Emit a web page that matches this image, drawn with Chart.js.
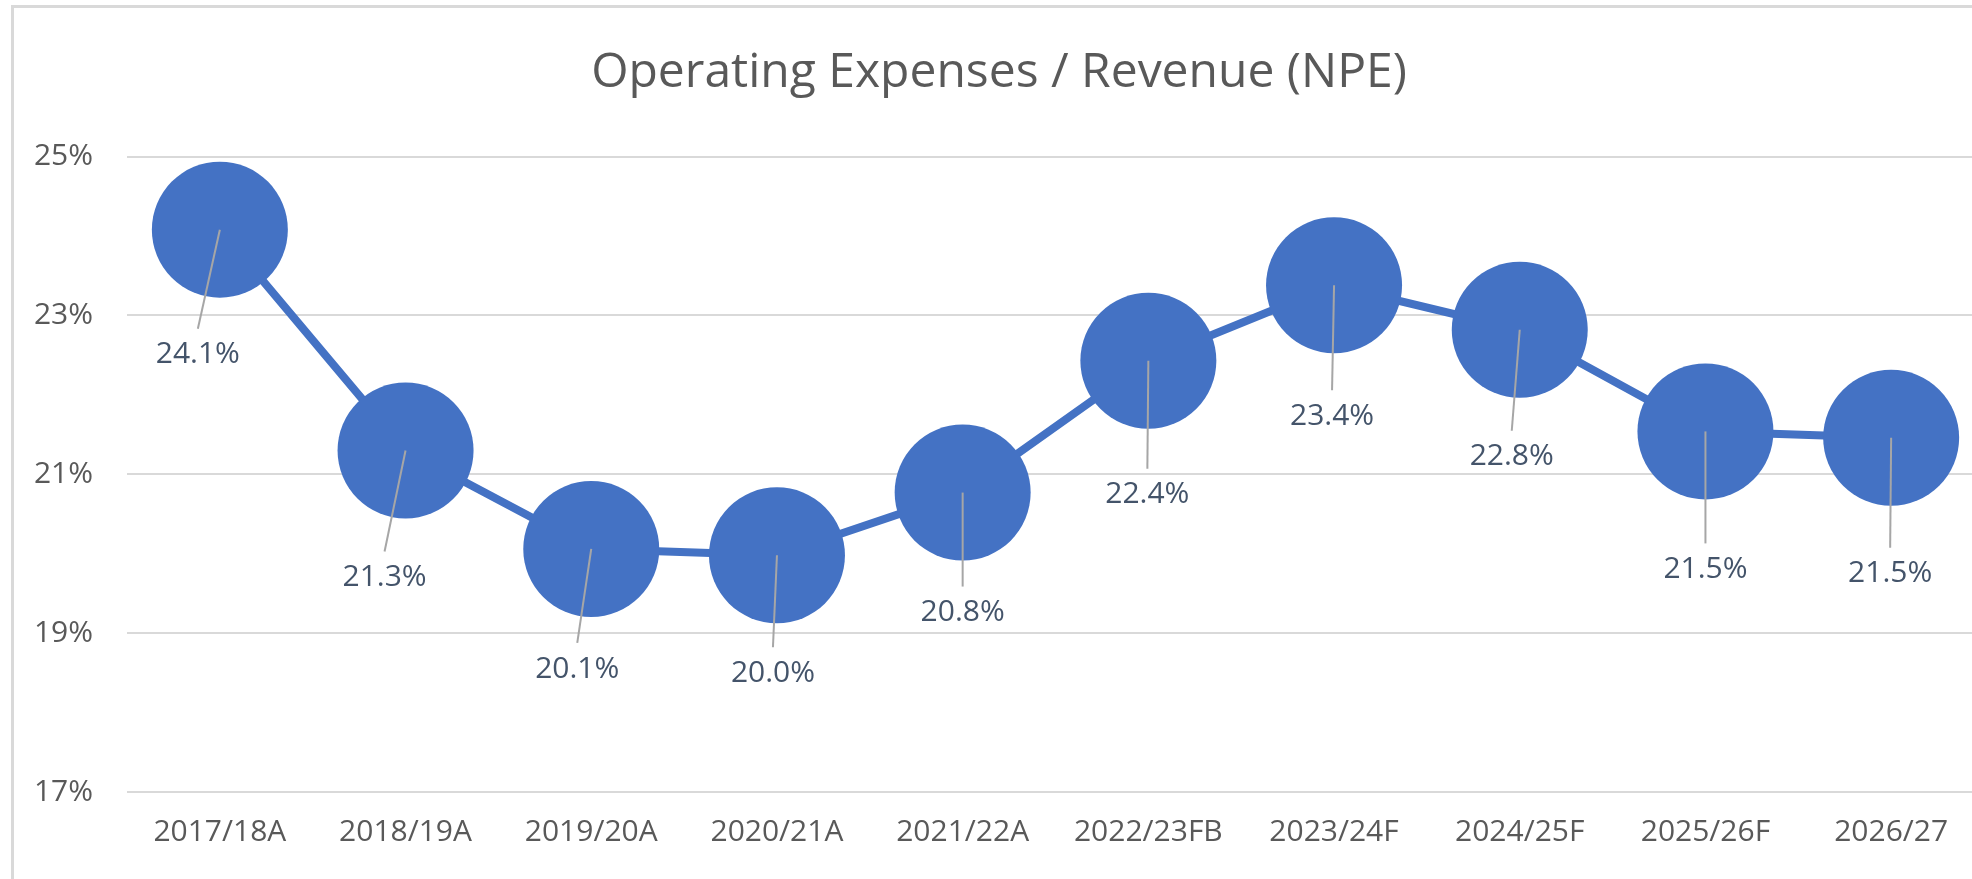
<!DOCTYPE html>
<html>
<head>
<meta charset="utf-8">
<script src="https://cdn.jsdelivr.net/npm/chart.js@4"></script>
<style>
  html, body { margin: 0; padding: 0; background: #ffffff; overflow: hidden; width: 1972px; height: 879px; }
  #frame { position: absolute; left: 11px; top: 5px; border-left: 3px solid #d9d9d9; border-top: 3px solid #d9d9d9; width: 1970px; height: 871px; }
  canvas { display: block; }
</style>
</head>
<body>
<div id="frame"><canvas id="c" width="1970" height="871" style="width:1970px;height:871px"></canvas></div>
<script>
// ---- data ----
const categories = ["2017/18A", "2018/19A", "2019/20A", "2020/21A", "2021/22A", "2022/23FB", "2023/24F", "2024/25F", "2025/26F", "2026/27"];
const opexToRevenue = [24.08, 21.30, 20.06, 19.98, 20.77, 22.43, 23.38, 22.82, 21.54, 21.46];
const yTickValues = [17, 19, 21, 23, 25];
const chartTitle = "Operating Expenses / Revenue (NPE)";

// ---- label placement (offset of each data label from its marker, px) ----
const labelDx = [-22, -21, -14, -4, 0, -1, -2, -8, 0, -1];
const labelDy = [125, 127, 120, 118, 120, 134, 131, 127, 138, 136];

const FONT = '"Open Sans", "Liberation Sans", sans-serif';

const leaderLabels = {
  id: 'leaderLabels',
  afterDatasetsDraw(chart) {
    const ctx = chart.ctx;
    const meta = chart.getDatasetMeta(0);
    ctx.save();
    meta.data.forEach((pt, i) => {
      const x = pt.x, y = pt.y;
      const lx = x + labelDx[i], ly = y + labelDy[i];
      ctx.strokeStyle = '#a6a6a6';
      ctx.lineWidth = 2;
      ctx.beginPath();
      ctx.moveTo(x, y);
      ctx.lineTo(lx, ly - 26);
      ctx.stroke();
      ctx.fillStyle = '#44546a';
      ctx.font = '30px ' + FONT;
      ctx.textAlign = 'center';
      ctx.textBaseline = 'middle';
      ctx.fillText(opexToRevenue[i].toFixed(1) + '%', lx, ly);
    });
    ctx.restore();
  }
};

new Chart(document.getElementById('c'), {
  type: 'line',
  data: {
    labels: categories,
    datasets: [{
      data: opexToRevenue,
      borderColor: '#4472c4',
      borderWidth: 8,
      backgroundColor: '#4472c4',
      pointRadius: 68,
      pointHoverRadius: 68,
      pointBorderWidth: 0,
      pointBackgroundColor: '#4472c4',
      tension: 0,
      clip: false
    }]
  },
  options: {
    responsive: false,
    animation: false,
    devicePixelRatio: 1,
    events: [],
    layout: { autoPadding: false, padding: { left: 0, right: 0, top: 0, bottom: 0 } },
    plugins: {
      legend: { display: false },
      tooltip: { enabled: false },
      title: {
        display: true,
        text: chartTitle,
        color: '#595959',
        font: { family: FONT, size: 48, weight: 'normal', lineHeight: 1.2 },
        padding: { top: 37, bottom: 54 }
      }
    },
    scales: {
      x: {
        type: 'category',
        offset: true,
        grid: { display: false, drawTicks: false },
        border: { display: false },
        ticks: {
          color: '#595959',
          font: { family: FONT, size: 30 },
          padding: 22,
          maxRotation: 0,
          autoSkip: false
        },
        afterFit(scale) { scale.height = 87; }
      },
      y: {
        min: 17,
        max: 25,
        grid: { color: '#d9d9d9', lineWidth: 2, drawTicks: false },
        border: { display: false },
        afterBuildTicks(scale) { scale.ticks = yTickValues.map(v => ({ value: v })); },
        ticks: {
          color: '#595959',
          font: { family: FONT, size: 30 },
          padding: 34,
          callback: (v) => v + '%'
        },
        afterFit(scale) { scale.width = 113; }
      }
    }
  },
  plugins: [leaderLabels]
});
</script>
</body>
</html>
